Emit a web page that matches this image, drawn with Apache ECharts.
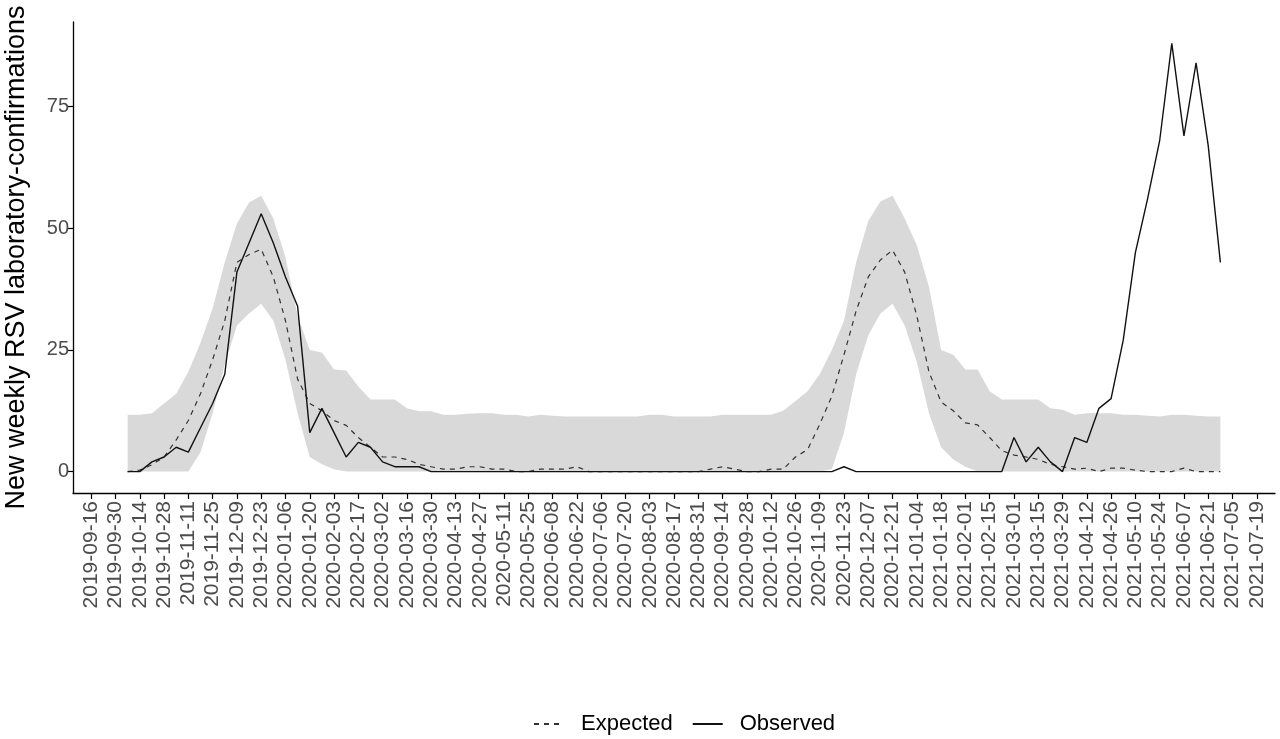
<!DOCTYPE html>
<html>
<head>
<meta charset="utf-8">
<script src="https://cdn.jsdelivr.net/npm/echarts@6/dist/echarts.min.js"></script>
<style>html,body{margin:0;padding:0;background:#fff;}#chart{width:1280px;height:739px;}</style>
</head>
<body>
<div id="chart"></div>
<script>
// Weekly dates (Mondays) of the series
const dates = [
'2019-10-07','2019-10-14','2019-10-21','2019-10-28','2019-11-04','2019-11-11','2019-11-18','2019-11-25','2019-12-02','2019-12-09','2019-12-16','2019-12-23','2019-12-30',
'2020-01-06','2020-01-13','2020-01-20','2020-01-27','2020-02-03','2020-02-10','2020-02-17','2020-02-24','2020-03-02','2020-03-09','2020-03-16','2020-03-23','2020-03-30',
'2020-04-06','2020-04-13','2020-04-20','2020-04-27','2020-05-04','2020-05-11','2020-05-18','2020-05-25','2020-06-01','2020-06-08','2020-06-15','2020-06-22','2020-06-29',
'2020-07-06','2020-07-13','2020-07-20','2020-07-27','2020-08-03','2020-08-10','2020-08-17','2020-08-24','2020-08-31','2020-09-07','2020-09-14','2020-09-21','2020-09-28',
'2020-10-05','2020-10-12','2020-10-19','2020-10-26','2020-11-02','2020-11-09','2020-11-16','2020-11-23','2020-11-30','2020-12-07','2020-12-14','2020-12-21','2020-12-28',
'2021-01-04','2021-01-11','2021-01-18','2021-01-25','2021-02-01','2021-02-08','2021-02-15','2021-02-22','2021-03-01','2021-03-08','2021-03-15','2021-03-22','2021-03-29',
'2021-04-05','2021-04-12','2021-04-19','2021-04-26','2021-05-03','2021-05-10','2021-05-17','2021-05-24','2021-05-31','2021-06-07','2021-06-14','2021-06-21','2021-06-28'
];
// Observed weekly counts
const observedSeason1 = [0,0,2,3,5,4,9,14,20,41,47,53,47,40,34,8,13,8,3,6,5,2,1,1,1,0];           // 2019-10-07 .. 2020-03-30
const observedSummer = [0,0,0,0,0,0,0,0,0,0,0,0,0,0,0,0,0,0,0,0,0,0,0,0,0,0,0,0,0,0,0,0,0,        // 2020-04-06 .. 2020-11-16
                        1,                                                                      // 2020-11-23
                        0,0,0,0,0,0,0,0,0,0,0,0,0];                                             // 2020-11-30 .. 2021-02-22
const observedSeason2 = [7,2,5,2,0,7,6,13,15,27,45,56,68,88,69,84,67,43];                        // 2021-03-01 .. 2021-06-28

const expected = [
0,0.3,1.4,3,6.5,10.5,16,23,31,43,
44.6,45.7,40,31,19,14,12.5,10.5,9.5,7,
5,3,3,2.5,1.5,1,0.5,0.5,1,1,
0.5,0.5,0,0,0.5,0.5,0.5,1,0,0,
0,0,0,0,0,0,0,0,0.5,1,
0.5,0,0,0.5,0.5,3,4.5,9.7,15.5,24,
33,40,43.5,45.5,41,32,20.5,14.3,12.5,10,
9.6,7,4.3,3.4,3,2.5,1.5,1,0.5,0.7,
0,0.7,0.7,0.3,0,0,0,0.7,0,0,
0
];
const lowerBound = [
0,0,0,0,0,0,
4,12,22,30,32.5,34.5,31,23,12,3,1.5,0.5,
0,0,0,0,0,0,0,0,0,0,0,0,0,0,0,0,0,0,0,0,0,0,0,0,0,0,0,0,0,0,0,0,0,0,0,0,0,0,0,0,
0.5,8,20,28,32.5,34.5,30,22.5,12,5,2.5,1,
0,0,0,0,0,0,0,0,0,0,0,0,0,0,0,0,0,0,0,0,0
];
const upperBound = [
11.7,11.7,12,14,16,20.5,26.5,33.5,43,51,
55.3,56.7,52,44,32,25,24.5,21,20.8,17.5,
14.8,14.8,14.8,13,12.4,12.4,11.7,11.7,11.9,12,
12,11.7,11.7,11.3,11.7,11.5,11.3,11.3,11.3,11.3,
11.3,11.3,11.3,11.7,11.7,11.3,11.3,11.3,11.3,11.7,
11.7,11.7,11.7,11.7,12.5,14.5,16.5,20,25,31,
43,51.5,55.5,56.7,52,46.5,38,25,24,21,
21,16.5,14.8,14.8,14.8,14.8,13,12.7,11.7,12,
12,12,11.7,11.7,11.5,11.3,11.7,11.7,11.5,11.3,
11.3
];
const tickLabels = [
'2019-09-16','2019-09-30','2019-10-14','2019-10-28','2019-11-11','2019-11-25','2019-12-09','2019-12-23',
'2020-01-06','2020-01-20','2020-02-03','2020-02-17','2020-03-02','2020-03-16','2020-03-30','2020-04-13',
'2020-04-27','2020-05-11','2020-05-25','2020-06-08','2020-06-22','2020-07-06','2020-07-20','2020-08-03',
'2020-08-17','2020-08-31','2020-09-14','2020-09-28','2020-10-12','2020-10-26','2020-11-09','2020-11-23',
'2020-12-07','2020-12-21','2021-01-04','2021-01-18','2021-02-01','2021-02-15','2021-03-01','2021-03-15',
'2021-03-29','2021-04-12','2021-04-26','2021-05-10','2021-05-24','2021-06-07','2021-06-21','2021-07-05','2021-07-19'
];
const yTicks = [0, 25, 50, 75];

const observedAll = observedSeason1.concat(observedSummer, observedSeason2);
const base = Date.parse(tickLabels[0]);
const WEEK = 7 * 864e5;
const toW = d => Math.round((Date.parse(d) - base) / WEEK);
const xs = dates.map(toW);
const tickW = tickLabels.map(toW);
const labelOf = {};
tickLabels.forEach((t, i) => { labelOf[tickW[i]] = t; });
const pair = arr => arr.map((v, i) => [xs[i], v]);

const chart = echarts.init(document.getElementById('chart'), null, {renderer: 'canvas'});
const font = '"Liberation Sans", Arial, sans-serif';
chart.setOption({
  animation: false,
  backgroundColor: '#ffffff',
  grid: {left: 73, right: 5, top: 22, bottom: 246, containLabel: false, outerBoundsMode: 'none'},
  legend: {
    data: ['Expected', 'Observed'],
    left: 528,
    top: 708,
    itemWidth: 30,
    itemHeight: 14,
    itemGap: 19,
    itemStyle: {opacity: 0},
    textStyle: {fontFamily: font, fontSize: 22, color: '#000', padding: [0, 0, 0, 12]}
  },
  xAxis: {
    type: 'value',
    min: -1.5,
    max: 97.5,
    splitLine: {show: false},
    axisLine: {onZero: false, lineStyle: {color: '#000', width: 1.3}},
    axisTick: {show: true, length: 6, customValues: tickW, lineStyle: {color: '#000', width: 1.2}},
    axisLabel: {
      customValues: tickW,
      rotate: 90,
      margin: 8,
      fontFamily: font,
      fontSize: 21,
      color: '#4D4D4D',
      formatter: v => labelOf[Math.round(v)] || ''
    }
  },
  yAxis: {
    type: 'value',
    min: -4.4,
    max: 92.4,
    name: 'New weekly RSV laboratory-confirmations',
    nameLocation: 'middle',
    nameRotate: 90,
    nameGap: 43,
    nameTextStyle: {fontFamily: font, fontSize: 27, color: '#000'},
    splitLine: {show: false},
    axisLine: {onZero: false, lineStyle: {color: '#000', width: 1.3}},
    axisTick: {show: true, length: 6, customValues: yTicks, lineStyle: {color: '#000', width: 1.2}},
    axisLabel: {customValues: yTicks, margin: 4, fontFamily: font, fontSize: 20, color: '#4D4D4D'}
  },
  series: [
    {
      name: 'band', type: 'custom', silent: true, z: 1,
      data: xs.map((x, i) => [x, lowerBound[i], upperBound[i]]),
      encode: {x: 0, y: [1, 2]},
      renderItem: (params, api) => {
        if (params.dataIndex !== 0) return null;
        const pts = [];
        for (let i = 0; i < xs.length; i++) pts.push(api.coord([xs[i], upperBound[i]]));
        for (let i = xs.length - 1; i >= 0; i--) pts.push(api.coord([xs[i], lowerBound[i]]));
        return {type: 'polygon', shape: {points: pts}, style: {fill: '#D9D9D9', stroke: null}};
      }
    },
    {
      name: 'Expected', type: 'line', symbol: 'none', data: pair(expected),
      lineStyle: {color: '#333333', width: 1.2, type: [5, 5]}, itemStyle: {color: '#333333'}, z: 3
    },
    {
      name: 'Observed', type: 'line', symbol: 'none', data: pair(observedAll),
      lineStyle: {color: '#111111', width: 1.4, type: 'solid'}, itemStyle: {color: '#111111'}, z: 4
    }
  ]
});
</script>
</body>
</html>
